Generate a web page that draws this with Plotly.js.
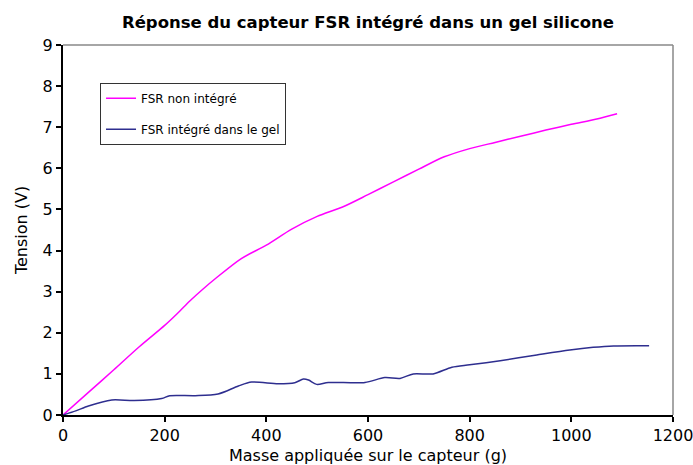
<!DOCTYPE html>
<html>
<head>
<meta charset="utf-8">
<script src="https://cdn.plot.ly/plotly-3.0.1.min.js"></script>
<style>html,body{margin:0;padding:0;background:#fff;}#chart{width:693px;height:465px;}</style>
</head>
<body>
<div id="chart"></div>
<script>
var massNonInt = [0, 50, 100, 150, 200, 225, 250, 275, 300, 350, 400, 450, 500, 550, 600, 650, 700, 750, 800, 850, 900, 950, 1000, 1050, 1090];
var tensionNonInt = [0, 0.55, 1.1, 1.66, 2.18, 2.47, 2.78, 3.06, 3.32, 3.8, 4.13, 4.52, 4.83, 5.06, 5.36, 5.67, 5.98, 6.28, 6.48, 6.63, 6.78, 6.93, 7.07, 7.2, 7.33];

var massGel = [0, 25, 50, 96, 140, 194, 210, 260, 305, 345, 371, 423, 456, 473, 483, 499, 522, 594, 633, 663, 689, 728, 765, 800, 860, 932, 997, 1043, 1083, 1153];
var tensionGel = [0, 0.1, 0.22, 0.365, 0.35, 0.4, 0.47, 0.47, 0.51, 0.705, 0.8, 0.76, 0.785, 0.875, 0.85, 0.745, 0.79, 0.79, 0.91, 0.89, 1.0, 1.0, 1.16, 1.22, 1.32, 1.46, 1.58, 1.645, 1.68, 1.685];

var seriesNames = ['FSR non intégré', 'FSR intégré dans le gel'];
var xTicks = [0, 200, 400, 600, 800, 1000, 1200];
var yTicks = [0, 1, 2, 3, 4, 5, 6, 7, 8, 9];

var traces = [
  {x: massNonInt, y: tensionNonInt, name: seriesNames[0], mode: 'lines', legendgroup: 'a',
   line: {color: '#ff00ff', width: 1.5, shape: 'spline', smoothing: 0.8}},
  {x: massGel, y: tensionGel, name: seriesNames[1], mode: 'lines', legendgroup: 'b',
   line: {color: '#2e2e8f', width: 1.5, shape: 'spline', smoothing: 0.8}}
];

var font = 'DejaVu Sans, sans-serif';
var layout = {
  width: 693, height: 465,
  margin: {l: 63, r: 20, t: 45, b: 50},
  paper_bgcolor: '#fff', plot_bgcolor: '#fff',
  font: {family: font, color: '#000', size: 16},
  title: {text: '<b>Réponse du capteur FSR intégré dans un gel silicone</b>', font: {family: font, size: 16.5, color: '#000'},
          x: 0.531, xanchor: 'center', y: 0.953, yanchor: 'middle'},
  showlegend: true,
  legend: {x: 0.0607, y: 0.898, xanchor: 'left', yanchor: 'top', bordercolor: '#333', borderwidth: 1,
           bgcolor: '#fff', font: {family: font, size: 12, color: '#000'}, tracegroupgap: 12, itemwidth: 30},
  xaxis: {range: [0, 1200], tickvals: xTicks, ticktext: xTicks.map(String), showgrid: false, zeroline: false,
          showline: true, linecolor: '#000', linewidth: 2, ticks: 'outside', ticklen: 5, tickwidth: 2, tickcolor: '#000',
          tickfont: {family: font, size: 16}, fixedrange: true, ticklabeloverflow: 'allow',
          title: {text: 'Masse appliquée sur le capteur (g)', font: {family: font, size: 16}, standoff: 6}},
  yaxis: {range: [0, 9], tickvals: yTicks, ticktext: yTicks.map(String), showgrid: false, zeroline: false,
          showline: true, linecolor: '#000', linewidth: 2, ticks: 'outside', ticklen: 5, tickwidth: 2, tickcolor: '#000',
          tickfont: {family: font, size: 16}, fixedrange: true, ticklabeloverflow: 'allow',
          title: {text: 'Tension (V)', font: {family: font, size: 16}, standoff: 11}},
  shapes: [
    {type: 'line', xref: 'paper', yref: 'paper', x0: 0, x1: 1, y0: 1, y1: 1, line: {color: '#888', width: 1.5}},
    {type: 'line', xref: 'paper', yref: 'paper', x0: 1, x1: 1, y0: 0, y1: 1, line: {color: '#888', width: 1.5}}
  ]
};

Plotly.newPlot('chart', traces, layout, {displayModeBar: false, staticPlot: true});
</script>
</body>
</html>
